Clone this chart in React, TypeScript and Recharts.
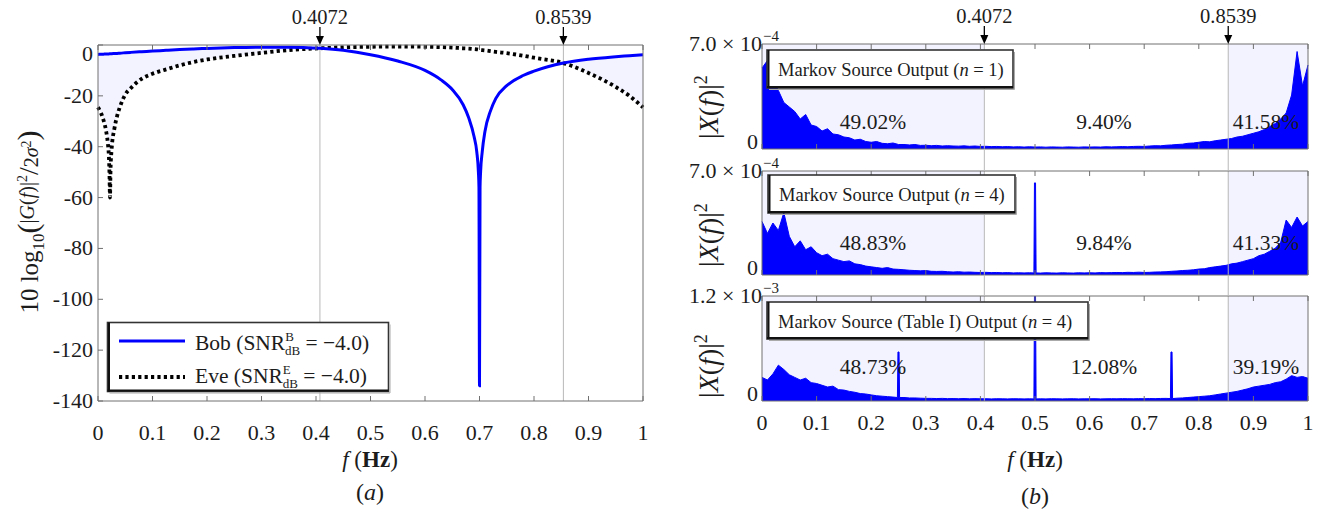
import { ComposedChart, Line, Area, XAxis, YAxis, ReferenceLine, ReferenceArea } from 'recharts'

const FONT = '"Liberation Serif", "DejaVu Serif", serif'
const BLUE = '#0000ff'
const AXIS = '#707070'
const INK = '#1c1c1c'
const SHADE = '#f3f3ff'
const GRID = '#b8b8b8'

// x axis ticks and the two cut-off frequencies
const freqTicks = [0, 0.1, 0.2, 0.3, 0.4, 0.5, 0.6, 0.7, 0.8, 0.9, 1]
const cutoffs = [0.4072, 0.8539]
const dbTicks = [-140, -120, -100, -80, -60, -40, -20, 0]

// (a) channel responses in dB
const leftFreq = [
  0, 0.005, 0.01, 0.015, 0.018, 0.02, 0.021, 0.022, 0.023, 0.025, 0.03, 0.035, 0.04, 0.05, 0.06, 0.08,
  0.1, 0.125, 0.15, 0.175, 0.2, 0.25, 0.3, 0.35, 0.4072, 0.45, 0.5, 0.55, 0.6, 0.63, 0.65, 0.67, 0.68,
  0.69, 0.695, 0.698, 0.699, 0.7, 0.701, 0.702, 0.705, 0.71, 0.72, 0.73, 0.75, 0.78, 0.8, 0.8539, 0.9,
  0.95, 0.975, 1,
]
const bobDb = [
  -3.7, -3.65, -3.6, -3.55, -3.5, -3.5, -3.45, -3.45, -3.45, -3.4, -3.35, -3.3, -3.2, -3.05, -2.9, -2.65,
  -2.4, -2.1, -1.8, -1.55, -1.35, -1.0, -0.85, -0.85, -1.3, -2.1, -3.8, -6.3, -10.0, -13.8, -17.5, -23.5, -28.5,
  -36, -42, -50, -56, -134, -56, -50, -42, -34, -26, -21, -16, -12, -10.3, -7.1, -5.6,
  -4.6, -4.2, -3.8,
]
const eveDb = [
  -24.5, -26.5, -29.5, -34, -38.5, -44, -50, -60, -49, -41, -33, -28, -24.5, -19.5, -17, -13.3,
  -11.3, -9.6, -8, -6.7, -5.7, -4.3, -3.1, -2.0, -1.3, -0.9, -0.7, -0.6, -0.7, -0.85, -1.0, -1.3, -1.4,
  -1.6, -1.7, -1.8, -1.85, -1.9, -1.9, -1.95, -2.0, -2.1, -2.4, -2.7, -3.2, -4.2, -5.0, -7.1, -11,
  -16.5, -20, -24.5,
]

// (b) power spectra, units of 1e-4, sampled every 0.01 Hz
const specFreq = Array.from({ length: 101 }, (_, i) => i / 100)
const spec1 = [
  5.4, 5.9, 4.6, 3.9, 3.1, 2.8, 2.5, 2.0, 2.3, 1.6,
  1.5, 1.2, 1.35, 1.0, 0.95, 0.8, 0.75, 0.6, 0.65, 0.5,
  0.45, 0.5, 0.38, 0.35, 0.4, 0.3, 0.3, 0.27, 0.3, 0.24,
  0.25, 0.22, 0.24, 0.2, 0.22, 0.2, 0.19, 0.21, 0.18, 0.2,
  0.17, 0.18, 0.16, 0.17, 0.15, 0.16, 0.14, 0.15, 0.13, 0.15,
  0.13, 0.14, 0.12, 0.14, 0.13, 0.12, 0.14, 0.13, 0.12, 0.14,
  0.13, 0.14, 0.13, 0.15, 0.14, 0.15, 0.16, 0.15, 0.17, 0.18,
  0.17, 0.2, 0.22, 0.21, 0.25, 0.27, 0.3, 0.32, 0.38, 0.4,
  0.45, 0.5, 0.48, 0.55, 0.6, 0.65, 0.7, 0.8, 0.85, 0.95,
  1.05, 1.15, 1.3, 1.5, 1.7, 2.0, 2.4, 3.6, 6.5, 4.2,
  5.6,
]
const spec2 = [
  3.6, 2.8, 3.5, 3.0, 4.2, 2.6, 1.9, 2.3, 1.7, 1.9,
  1.5, 1.3, 1.4, 1.1, 1.0, 0.9, 0.95, 0.75, 0.7, 0.6,
  0.55, 0.5, 0.45, 0.5, 0.4, 0.38, 0.35, 0.32, 0.3, 0.28,
  0.3, 0.25, 0.24, 0.25, 0.22, 0.2, 0.22, 0.19, 0.2, 0.18,
  0.17, 0.18, 0.16, 0.17, 0.15, 0.16, 0.14, 0.15, 0.14, 0.15,
  0.14, 0.13, 0.15, 0.14, 0.13, 0.15, 0.14, 0.13, 0.15, 0.14,
  0.15, 0.14, 0.16, 0.15, 0.16, 0.17, 0.16, 0.18, 0.17, 0.19,
  0.17, 0.18, 0.2, 0.21, 0.22, 0.25, 0.27, 0.3, 0.32, 0.35,
  0.4, 0.42, 0.5, 0.55, 0.6, 0.65, 0.75, 0.8, 0.9, 1.0,
  1.1, 1.3, 1.4, 1.6, 1.8, 2.2, 3.7, 3.2, 3.9, 3.3,
  3.6,
]
const spec3 = [
  2.7, 2.4, 3.1, 4.1, 3.6, 3.0, 2.7, 2.4, 2.6, 2.1,
  2.0, 1.8, 1.6, 1.7, 1.3, 1.25, 1.1, 1.0, 0.85, 0.8,
  0.7, 0.6, 0.55, 0.5, 0.45, 0.4, 0.4, 0.35, 0.35, 0.32,
  0.3, 0.3, 0.28, 0.3, 0.27, 0.28, 0.26, 0.28, 0.25, 0.27,
  0.25, 0.26, 0.24, 0.26, 0.25, 0.24, 0.26, 0.25, 0.24, 0.25,
  0.24, 0.25, 0.24, 0.26, 0.25, 0.24, 0.25, 0.26, 0.24, 0.25,
  0.25, 0.26, 0.24, 0.25, 0.26, 0.25, 0.27, 0.26, 0.25, 0.27,
  0.26, 0.28, 0.27, 0.29, 0.3, 0.28, 0.32, 0.35, 0.4, 0.45,
  0.5, 0.55, 0.6, 0.7, 0.8, 0.9, 1.0, 1.1, 1.25, 1.4,
  1.6, 1.7, 1.8, 1.9, 2.1, 2.2, 2.5, 2.9, 2.7, 2.8,
  2.6,
]
const spikes1: { f: number; v: number }[] = []
const spikes2 = [{ f: 0.5, v: 6.2 }]
const spikes3 = [{ f: 0.25, v: 5.6 }, { f: 0.5, v: 12 }, { f: 0.75, v: 5.6 }]

const panelTitles = ['Markov Source Output (', 'Markov Source Output (', 'Markov Source (Table I) Output (']
const panelOrders = ['1', '4', '4']
const shares = [
  ['49.02%', '9.40%', '41.58%'],
  ['48.83%', '9.84%', '41.33%'],
  ['48.73%', '12.08%', '39.19%'],
]

const leftTable = leftFreq.map((f, i) => ({
  f,
  bob: bobDb[i],
  eve: eveDb[i],
  band: f <= cutoffs[0] || f >= cutoffs[1] ? [eveDb[i], bobDb[i]] : null,
}))

function withSpikes(values: number[], spikes: { f: number; v: number }[]) {
  const rows = specFreq
    .map((f, i) => ({ f, v: values[i] }))
    .filter(r => !spikes.some(s => Math.abs(r.f - s.f) < 0.0025))
  spikes.forEach(s => {
    const base = values[Math.round(s.f * 100)]
    rows.push(
      { f: s.f - 0.002, v: base },
      { f: s.f - 0.001, v: s.v },
      { f: s.f + 0.001, v: s.v },
      { f: s.f + 0.002, v: base },
    )
  })
  return rows.sort((a, b) => a.f - b.f)
}

const txt = { fontFamily: FONT, fill: INK }

// ---- custom ticks (MATLAB style: marks inside the box) ----
const bottomTick = (labelDy: number | null) => (p: any) => {
  const { x, y, payload } = p
  return (
    <g>
      <line x1={x} x2={x} y1={y} y2={y - 5} stroke={AXIS} />
      {labelDy !== null && (
        <text x={x} y={y + labelDy} textAnchor="middle" fontSize={22} {...txt}>
          {payload.value}
        </text>
      )}
    </g>
  )
}

const topTick = (mode: 'arrow' | 'gap', gap = 0) => (p: any) => {
  const { x, y, payload } = p
  if (cutoffs.includes(payload.value)) {
    if (mode === 'gap') return <line x1={x} x2={x} y1={y} y2={y - gap} stroke={GRID} />
    return (
      <g>
        <line x1={x} x2={x} y1={y - 18} y2={y - 8} stroke="#000" strokeWidth={1.3} />
        <path d={`M${x - 4},${y - 9}L${x + 4},${y - 9}L${x},${y}Z`} fill="#000" />
        <text x={x} y={y - 21} textAnchor="middle" fontSize={20.5} {...txt}>
          {payload.value}
        </text>
      </g>
    )
  }
  return <line x1={x} x2={x} y1={y} y2={y + 5} stroke={AXIS} />
}

const dbTick = (p: any) => {
  const { x, y, payload } = p
  return (
    <g>
      <line x1={x} x2={x + 5} y1={y} y2={y} stroke={AXIS} />
      <text x={x - 5} y={y + (payload.value === 0 ? 16 : 7)} textAnchor="end" fontSize={22} {...txt}>
        {payload.value}
      </text>
    </g>
  )
}

const dbTickRight = (p: any) => {
  const { x, y } = p
  return <line x1={x} x2={x - 5} y1={y} y2={y} stroke={AXIS} />
}

const specTick = (mant: string, expo: string) => (p: any) => {
  const { x, y, payload } = p
  if (payload.value === 0) {
    return (
      <text x={x - 4} y={y} textAnchor="end" fontSize={22} {...txt}>
        0
      </text>
    )
  }
  return (
    <g>
      <text x={x} y={y + 7} textAnchor="end" fontSize={22} {...txt}>
        {mant}
      </text>
      <text x={x + 1} y={y - 3} fontSize={15} {...txt}>
        {expo}
      </text>
    </g>
  )
}

function ResponsePanel() {
  return (
    <div style={{ position: 'absolute', left: 0, top: 0 }}>
      <ComposedChart width={660} height={517} data={leftTable} margin={{ top: 44, right: 16, bottom: 115, left: 97 }}>
        <XAxis dataKey="f" type="number" domain={[0, 1]} ticks={freqTicks} interval={0} height={1}
          tickSize={0} tickMargin={0} axisLine={{ stroke: AXIS }} tickLine={false} tick={bottomTick(39)} />
        <XAxis xAxisId="top" orientation="top" dataKey="f" type="number" domain={[0, 1]} ticks={[...freqTicks, ...cutoffs]}
          interval={0} height={1} tickSize={0} tickMargin={0} axisLine={{ stroke: AXIS }} tickLine={false} tick={topTick('arrow')} />
        <YAxis type="number" domain={[-140, 0]} ticks={dbTicks} interval={0} width={1}
          tickSize={0} tickMargin={0} axisLine={{ stroke: AXIS }} tickLine={false} tick={dbTick} />
        <YAxis yAxisId="r" orientation="right" type="number" domain={[-140, 0]} ticks={dbTicks} interval={0} width={1}
          tickSize={0} tickMargin={0} axisLine={{ stroke: AXIS }} tickLine={false} tick={dbTickRight} />
        <Area type="monotone" dataKey="band" stroke="none" fill={SHADE} fillOpacity={1} isAnimationActive={false} activeDot={false} />
        {cutoffs.map(c => (
          <ReferenceLine key={c} x={c} stroke={GRID} strokeWidth={1} />
        ))}
        <Line type="monotone" dataKey="eve" stroke="#000" strokeWidth={3.8} strokeDasharray="3.2 3.2" dot={false} isAnimationActive={false} />
        <Line type="monotone" dataKey="bob" stroke={BLUE} strokeWidth={3} dot={false} isAnimationActive={false} />
      </ComposedChart>
    </div>
  )
}

interface SpectrumProps {
  values: number[]
  spikes: { f: number; v: number }[]
  top: number
  height: number
  margin: { top: number; bottom: number }
  yMax: number
  mant: string
  expo: string
  topMode: 'arrow' | 'gap'
  gap: number
  labels: boolean
}

function SpectrumPanel({ values, spikes, top, height, margin, yMax, mant, expo, topMode, gap, labels }: SpectrumProps) {
  const data = withSpikes(values, spikes)
  return (
    <div style={{ position: 'absolute', left: 680, top }}>
      <ComposedChart width={654} height={height} data={data} margin={{ top: margin.top - 1, right: 25, bottom: margin.bottom - 1, left: 81 }}>
        <XAxis dataKey="f" type="number" domain={[0, 1]} ticks={freqTicks} interval={0} height={1}
          tickSize={0} tickMargin={0} axisLine={{ stroke: AXIS }} tickLine={false} tick={bottomTick(labels ? 29 : null)} />
        <XAxis xAxisId="top" orientation="top" dataKey="f" type="number" domain={[0, 1]} ticks={[...freqTicks, ...cutoffs]}
          interval={0} height={1} tickSize={0} tickMargin={0} axisLine={{ stroke: AXIS }} tickLine={false} tick={topTick(topMode, gap)} />
        <YAxis type="number" domain={[0, yMax]} ticks={[0, yMax]} interval={0} width={1} allowDataOverflow
          tickSize={0} tickMargin={0} axisLine={{ stroke: AXIS }} tickLine={false} tick={specTick(mant, expo)} />
        <YAxis yAxisId="r" orientation="right" type="number" domain={[0, yMax]} width={1} axisLine={{ stroke: AXIS }}
          tickLine={false} tick={false} />
        <ReferenceArea x1={0} x2={cutoffs[0]} y1={0} y2={yMax} fill={SHADE} fillOpacity={1} stroke="none" />
        <ReferenceArea x1={cutoffs[1]} x2={1} y1={0} y2={yMax} fill={SHADE} fillOpacity={1} stroke="none" />
        {cutoffs.map(c => (
          <ReferenceLine key={c} x={c} stroke={GRID} strokeWidth={1} />
        ))}
        <Area type="linear" dataKey="v" stroke={BLUE} strokeWidth={1} fill={BLUE} fillOpacity={1} dot={false}
          activeDot={false} isAnimationActive={false} />
      </ComposedChart>
    </div>
  )
}

// legend frame with the heavier left/bottom edge seen in the figure
function Frame({ x, y, w, h }: { x: number; y: number; w: number; h: number }) {
  return (
    <g>
      <rect x={x} y={y} width={w} height={h} fill="#fff" stroke="#333" strokeWidth={1.6} />
      <line x1={x + 1.5} x2={x + 1.5} y1={y} y2={y + h} stroke="#111" strokeWidth={2} />
      <line x1={x} x2={x + w} y1={y + h - 1} y2={y + h - 1} stroke="#111" strokeWidth={2} />
      <line x1={x + 2} x2={x + w + 1.5} y1={y + h + 1.5} y2={y + h + 1.5} stroke="#aaa" strokeWidth={1} />
      <line x1={x + w + 1.5} x2={x + w + 1.5} y1={y + 2} y2={y + h + 1.5} stroke="#aaa" strokeWidth={1} />
    </g>
  )
}

function Overlay() {
  const boxes = [
    { x: 767, y: 50, w: 246, h: 38 },
    { x: 768, y: 175, w: 247, h: 38 },
    { x: 767, y: 302, w: 321, h: 37 },
  ]
  const shareX = [873, 1104, 1266]
  const shareY = [129, 250, 374]
  const xLabelY = [107, 235, 366]
  return (
    <svg width={1334} height={517} style={{ position: 'absolute', left: 0, top: 0, pointerEvents: 'none' }}>
      {/* (a) y label */}
      <text transform="translate(38,222) rotate(-90)" textAnchor="middle" fontSize={25} {...txt}>
        10 log<tspan fontSize={17} dy={6}>10</tspan>
        <tspan dy={-6} fontSize={30}>(</tspan>
        <tspan fontSize={20} dy={-4}>|</tspan>
        <tspan fontSize={20} fontStyle="italic">G</tspan>
        <tspan fontSize={20}>(</tspan>
        <tspan fontSize={20} fontStyle="italic">f</tspan>
        <tspan fontSize={20}>)|</tspan>
        <tspan fontSize={14} dy={-7}>2</tspan>
        <tspan fontSize={28} dy={11}>/</tspan>
        <tspan fontSize={20}>2</tspan>
        <tspan fontSize={20} fontStyle="italic">σ</tspan>
        <tspan fontSize={14} dy={-7}>2</tspan>
        <tspan fontSize={30} dy={7}>)</tspan>
      </text>

      {/* (a) legend */}
      <Frame x={107.5} y={322.5} w={281} h={69} />
      <line x1={119} x2={185} y1={341} y2={341} stroke={BLUE} strokeWidth={3} />
      <line x1={119} x2={185} y1={377} y2={377} stroke="#000" strokeWidth={3.8} strokeDasharray="3.2 3.2" />
      <text x={195} y={350} fontSize={21.5} {...txt}>
        Bob (SNR<tspan fontSize={13} dy={-9}>B</tspan>
        <tspan fontSize={13} dx={-9} dy={14}>dB</tspan>
        <tspan dy={-5}> = −4.0)</tspan>
      </text>
      <text x={195} y={383} fontSize={21.5} {...txt}>
        Eve (SNR<tspan fontSize={13} dy={-9}>E</tspan>
        <tspan fontSize={13} dx={-8} dy={14}>dB</tspan>
        <tspan dy={-5}> = −4.0)</tspan>
      </text>

      {/* axis titles */}
      <text x={370} y={467} textAnchor="middle" fontSize={23} {...txt}>
        <tspan fontStyle="italic">f</tspan> (<tspan fontWeight="bold">Hz</tspan>)
      </text>
      <text x={370} y={500} textAnchor="middle" fontSize={24} {...txt}>
        (<tspan fontStyle="italic">a</tspan>)
      </text>
      <text x={1035} y={467} textAnchor="middle" fontSize={23} {...txt}>
        <tspan fontStyle="italic">f</tspan> (<tspan fontWeight="bold">Hz</tspan>)
      </text>
      <text x={1035} y={504} textAnchor="middle" fontSize={24} {...txt}>
        (<tspan fontStyle="italic">b</tspan>)
      </text>

      {/* (b) panels */}
      {boxes.map((b, i) => (
        <g key={i}>
          <text transform={`translate(718,${xLabelY[i]}) rotate(-90)`} textAnchor="middle" fontSize={28} {...txt}>
            |<tspan fontStyle="italic">X</tspan>(<tspan fontStyle="italic">f</tspan>)|<tspan fontSize={18} dy={-11}>2</tspan>
          </text>
          <Frame x={b.x} y={b.y} w={b.w} h={b.h} />
          <text x={b.x + 11} y={b.y + 26} fontSize={18.5} {...txt}>
            {panelTitles[i]}
            <tspan fontStyle="italic">n</tspan> = {panelOrders[i]})
          </text>
          {shares[i].map((s, j) => (
            <text key={j} x={shareX[j]} y={shareY[i]} textAnchor="middle" fontSize={21.5} {...txt}>
              {s}
            </text>
          ))}
        </g>
      ))}
    </svg>
  )
}

export default function App() {
  return (
    <div style={{ position: 'absolute', left: 0, top: 0, width: 1334, height: 517, background: '#fff' }}>
      <style>{'.recharts-surface { overflow: visible; }'}</style>
      <ResponsePanel />
      <SpectrumPanel values={spec1} spikes={spikes1} top={0} height={160} margin={{ top: 44, bottom: 11 }} yMax={7}
        mant="7.0 × 10" expo="−4" topMode="arrow" gap={0} labels={false} />
      <SpectrumPanel values={spec2} spikes={spikes2} top={160} height={130} margin={{ top: 11, bottom: 15 }} yMax={7}
        mant="7.0 × 10" expo="−4" topMode="gap" gap={22} labels={false} />
      <SpectrumPanel values={spec3} spikes={spikes3} top={290} height={227} margin={{ top: 6, bottom: 116 }} yMax={12}
        mant="1.2 × 10" expo="−3" topMode="gap" gap={21} labels={true} />
      <Overlay />
    </div>
  )
}
